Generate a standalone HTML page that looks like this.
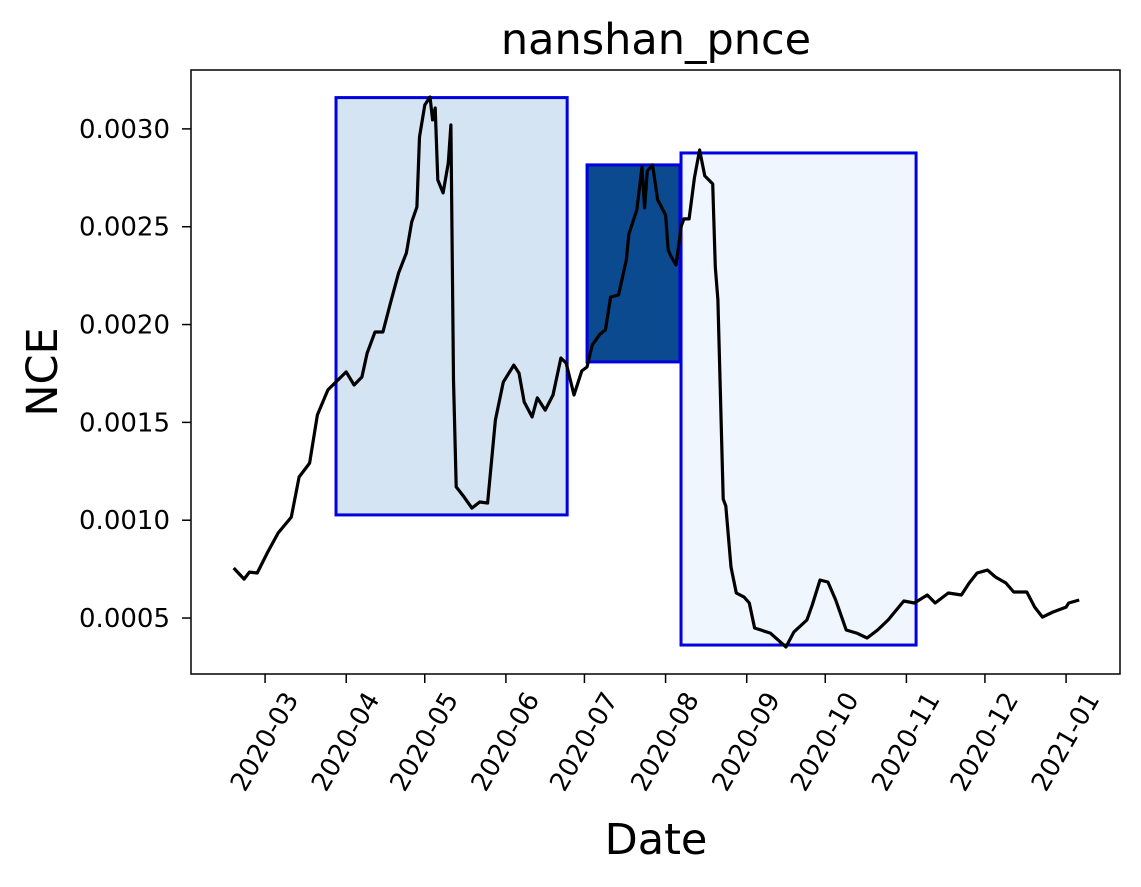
<!DOCTYPE html>
<html><head><meta charset="utf-8"><style>
body{margin:0;background:#fff;}
svg text{font-family:"DejaVu Sans","Liberation Sans",sans-serif;fill:#000;}
</style></head><body>
<svg id="chart" width="1141" height="882" viewBox="0 0 1141 882" xmlns="http://www.w3.org/2000/svg">
<text x="656" y="54" font-size="43" text-anchor="middle">nanshan_pnce</text>
<text transform="translate(57,372) rotate(-90)" font-size="43" text-anchor="middle">NCE</text>
<text x="656" y="854" font-size="43" text-anchor="middle">Date</text>
<g id="boxes"></g>
<g id="series"></g>
<g id="axes"></g>
</svg>
<script>
const days = [-12,-8,-6,-3,1,5,10,13,17,20,24,27,31,34,37,39,42,45,48,51,54,56,58,59,61,63,64,65,66,68,70,71,72,73,76,79,82,85,88,91,95,97,99,102,104,107,110,113,115,118,121,123,125,128,130,132,135,138,139,142,144,145,146,148,150,153,154,155,157,159,160,162,164,166,168,171,172,173,175,176,178,180,183,185,187,193,199,202,207,209,212,215,218,222,226,230,234,238,244,248,253,256,261,266,269,272,276,279,283,286,291,294,297,301,306,307,311];
const nce = [0.000756,0.000699,0.000735,0.000730,0.000837,0.000935,0.001016,0.001221,0.001292,0.001538,0.001666,0.001706,0.001758,0.001691,0.001732,0.001855,0.001962,0.001962,0.002115,0.002264,0.002366,0.002524,0.002601,0.002959,0.003122,0.003163,0.003046,0.003107,0.002739,0.002673,0.002826,0.003020,0.001717,0.001170,0.001119,0.001062,0.001093,0.001088,0.001512,0.001706,0.001793,0.001752,0.001604,0.001528,0.001625,0.001563,0.001640,0.001829,0.001804,0.001640,0.001763,0.001783,0.001896,0.001952,0.001972,0.002141,0.002151,0.002330,0.002463,0.002586,0.002806,0.002596,0.002785,0.002816,0.002637,0.002560,0.002381,0.002351,0.002305,0.002504,0.002540,0.002540,0.002749,0.002892,0.002760,0.002719,0.002294,0.002126,0.001108,0.001073,0.000761,0.000628,0.000607,0.000577,0.000449,0.000423,0.000352,0.000428,0.000490,0.000566,0.000694,0.000684,0.000592,0.000439,0.000423,0.000398,0.000439,0.000490,0.000587,0.000577,0.000618,0.000577,0.000628,0.000618,0.000679,0.000730,0.000745,0.000710,0.000679,0.000633,0.000633,0.000556,0.000505,0.000531,0.000556,0.000577,0.000592];
const boxStart = [27.1,123.0,158.9];
const boxEnd = [115.4,158.5,248.7];
const boxLow = [0.001027,0.001809,0.000362];
const boxHigh = [0.003160,0.002816,0.002877];
const boxFill = ["#d5e4f3","#0b4a8e","#f0f6fd"];
const xTickDays = [0,31,61,92,122,153,184,214,245,275,306];
const xTickLabels = ["2020-03","2020-04","2020-05","2020-06","2020-07","2020-08","2020-09","2020-10","2020-11","2020-12","2021-01"];
const yTicks = [0.0005,0.0010,0.0015,0.0020,0.0025,0.0030];
const yTickLabels = ["0.0005","0.0010","0.0015","0.0020","0.0025","0.0030"];

const L=191,R=1120,T=70,B=674;
const xMin=-28.3,xMax=326.6,yMin=0.000214,yMax=0.003301;
const X=d=>L+(d-xMin)/(xMax-xMin)*(R-L);
const Y=v=>B-(v-yMin)/(yMax-yMin)*(B-T);
const NS="http://www.w3.org/2000/svg";
function mk(tag,parent){const e=document.createElementNS(NS,tag);parent.appendChild(e);return e;}
const gb=document.getElementById('boxes'),gs=document.getElementById('series'),ga=document.getElementById('axes');

for(let i=0;i<boxStart.length;i++){
  const r=mk('rect',gb);
  
  
  const x1=X(boxStart[i]),x2=X(boxEnd[i]),y1=Y(boxHigh[i]),y2=Y(boxLow[i]);
  r.setAttribute('x',x1);r.setAttribute('y',y1);r.setAttribute('width',x2-x1);r.setAttribute('height',y2-y1);
  r.setAttribute('fill',boxFill[i]);r.setAttribute('stroke','#0000e0');r.setAttribute('stroke-width','3');
}
const p=mk('polyline',gs);


p.setAttribute('points',days.map((d,i)=>X(d).toFixed(1)+','+Y(nce[i]).toFixed(1)).join(' '));
p.setAttribute('fill','none');p.setAttribute('stroke','#000');p.setAttribute('stroke-width','3.2');p.setAttribute('stroke-linejoin','round');

const fr=mk('rect',ga);


fr.setAttribute('x',L);fr.setAttribute('y',T);fr.setAttribute('width',R-L);fr.setAttribute('height',B-T);
fr.setAttribute('fill','none');fr.setAttribute('stroke','#000');fr.setAttribute('stroke-width','1.5');

xTickDays.forEach((d,i)=>{
  const x=X(d);
  const t=mk('line',ga);
  
  
  t.setAttribute('x1',x);t.setAttribute('x2',x);t.setAttribute('y1',B);t.setAttribute('y2',B+9);t.setAttribute('stroke','#000');t.setAttribute('stroke-width','1.5');
  const tx=mk('text',ga);
  
  
  tx.setAttribute('font-size','26');tx.setAttribute('text-anchor','middle');
  tx.setAttribute('dominant-baseline','central');
  tx.setAttribute('transform','translate('+x+','+(B+68)+') rotate(-60)');
  tx.textContent=xTickLabels[i];
});
yTicks.forEach((v,i)=>{
  const y=Y(v);
  const t=mk('line',ga);
  
  
  t.setAttribute('x1',L-9);t.setAttribute('x2',L);t.setAttribute('y1',y);t.setAttribute('y2',y);t.setAttribute('stroke','#000');t.setAttribute('stroke-width','1.5');
  const tx=mk('text',ga);
  
  
  tx.setAttribute('font-size','26');tx.setAttribute('text-anchor','end');
  tx.setAttribute('x',L-21);tx.setAttribute('y',y+9);
  tx.textContent=yTickLabels[i];
});
</script>
</body></html>
